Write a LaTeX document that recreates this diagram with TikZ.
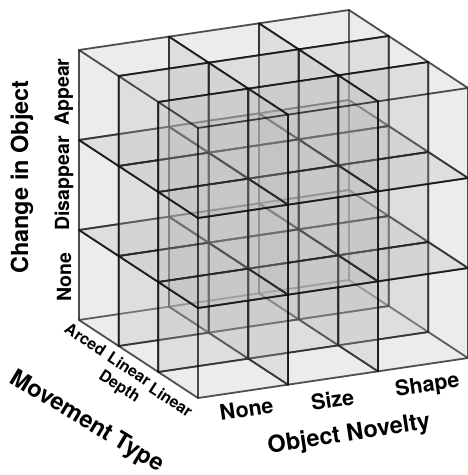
\documentclass[tikz,border=0pt]{standalone}
\usepackage{fontspec}
\setmainfont{TeX Gyre Heros}
\definecolor{cubefill}{gray}{0.73}
\tikzset{
  face/.style={fill=cubefill, fill opacity=0.15, draw=black, draw opacity=0.45, line width=1.7pt, line join=round},
  changelabel/.style={font=\fontsize{19.5}{22}\selectfont\bfseries, inner sep=0pt},
  novlabel/.style={font=\fontsize{21.5}{24}\selectfont\bfseries, inner sep=0pt},
  movlabel/.style={font=\fontsize{16}{18}\selectfont\bfseries, inner sep=0pt},
  axistitle/.style={font=\fontsize{23.5}{26}\selectfont\bfseries, inner sep=0pt}
}
\begin{document}
\begin{tikzpicture}
\useasboundingbox (0pt,0pt) rectangle (467pt,-475pt);
\begin{scope}[shift={(79pt,-320pt)}, x={(90pt,13.333pt)}, y={(0pt,90pt)}, z={(39.667pt,-26pt)}]
\foreach \k in {0,1,2}{
 \foreach \j in {0,1,2}{
  \foreach \i in {2,1,0}{
    % hidden faces
    \path[face] (\i,\j,\k) -- (\i+1,\j,\k) -- (\i+1,\j+1,\k) -- (\i,\j+1,\k) -- cycle;
    \path[face] (\i,\j,\k) -- (\i+1,\j,\k) -- (\i+1,\j,\k+1) -- (\i,\j,\k+1) -- cycle;
    \path[face] (\i+1,\j,\k) -- (\i+1,\j+1,\k) -- (\i+1,\j+1,\k+1) -- (\i+1,\j,\k+1) -- cycle;
    % visible faces
    \path[face] (\i,\j,\k) -- (\i,\j+1,\k) -- (\i,\j+1,\k+1) -- (\i,\j,\k+1) -- cycle;
    \path[face] (\i,\j+1,\k) -- (\i+1,\j+1,\k) -- (\i+1,\j+1,\k+1) -- (\i,\j+1,\k+1) -- cycle;
    \path[face] (\i,\j,\k+1) -- (\i+1,\j,\k+1) -- (\i+1,\j+1,\k+1) -- (\i,\j+1,\k+1) -- cycle;
  }}}
\end{scope}
% change-in-object labels
\node[changelabel, rotate=90] (appear) at (64pt,-92pt) {Appear};
\node[changelabel, rotate=90] (disappear) at (64pt,-183.5pt) {Disappear};
\node[changelabel, rotate=90] (nonec) at (64pt,-277pt) {None};
\node[axistitle, rotate=90] (change) at (22pt,-177pt) {Change in Object};
% movement labels
\node[movlabel, rotate=-33] (arced) at (85.5pt,-339.5pt) {Arced};
\node[movlabel, rotate=-33] (linearA) at (129.5pt,-369pt) {Linear};
\node[movlabel, rotate=-33] (depth) at (119pt,-387pt) {Depth};
\node[movlabel, rotate=-33] (linearB) at (171pt,-400pt) {Linear};
\node[axistitle, rotate=-31] (movement) at (86.5pt,-422pt) {Movement Type};
% novelty labels
\node[novlabel, rotate=8.4] (nonen) at (246.5pt,-409pt) {None};
\node[novlabel, rotate=8.4] (size) at (332.5pt,-400pt) {Size};
\node[novlabel, rotate=8.4] (shape) at (427.5pt,-386pt) {Shape};
\node[axistitle, rotate=8.6] (novelty) at (349pt,-435pt) {Object Novelty};
\end{tikzpicture}
\end{document}
